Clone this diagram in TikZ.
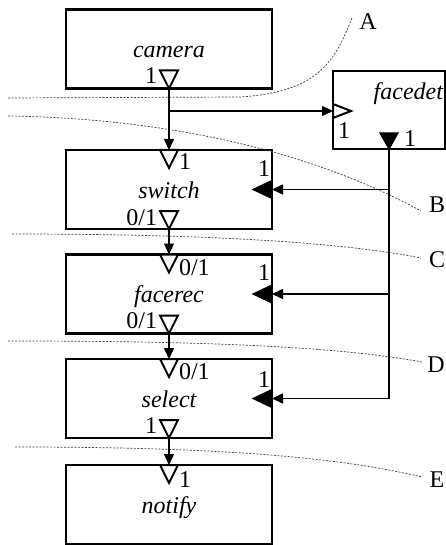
\documentclass[tikz,border=0pt]{standalone}
\usepackage{fontspec}
\setmainfont{Liberation Serif}
\usetikzlibrary{arrows.meta}
\begin{document}
\begin{tikzpicture}[x=1pt,y=-1pt,
  every node/.style={font=\fontsize{24}{29}\selectfont},
  box/.style={draw, line width=2.6pt, minimum width=206pt, minimum height=79pt,
    inner sep=0pt, outer sep=0pt, font=\fontsize{24}{29}\selectfont\itshape,
    text height=17pt, text depth=0pt},
  conn/.style={line width=1.5pt, -{Triangle[length=11pt,width=10pt]}},
  wire/.style={line width=1.5pt},
  oport/.style={draw, line width=2pt, fill=white, line join=miter},
  fport/.style={draw, line width=1.2pt, fill=black, line join=miter},
  plab/.style={inner sep=0pt, outer sep=0pt},
  cut/.style={draw=black!75, line width=0.7pt, dash pattern=on 2pt off 1.5pt},
  cutlab/.style={inner sep=0pt, outer sep=0pt}
]
\useasboundingbox (0,0) rectangle (446,545);

% boxes
\node[box] (camera) at (169,49) {camera};
\node[box] (switch) at (169,189.5) {switch};
\node[box] (facerec) at (169,294) {facerec};
\node[box] (select) at (169,398.5) {select};
\node[box] (notify) at (169,504.5) {notify};
\node[box, minimum width=112pt, minimum height=78pt] (facedet) at (389,110) {};
\node[plab, anchor=base east, font=\fontsize{24}{29}\selectfont\itshape] (facedett) at (443,100) {facedet};

% cut lines
\draw[cut] (8,98) -- (240,97) .. controls (320,92) and (335,60) .. (352,18);
\draw[cut] (8,116) .. controls (150,118) and (300,145) .. (421,211);
\draw[cut] (12,234) .. controls (180,234) and (330,240) .. (421,258);
\draw[cut] (8,341) .. controls (180,341) and (330,345) .. (422,362);
\draw[cut] (15,447) .. controls (200,447) and (330,455) .. (422,477);
\node[cutlab, anchor=base] (cA) at (368,30) {A};
\node[cutlab, anchor=base] (cB) at (437,212) {B};
\node[cutlab, anchor=base] (cC) at (437,267) {C};
\node[cutlab, anchor=base] (cD) at (436,372) {D};
\node[cutlab, anchor=base] (cE) at (437,487) {E};

% connectors
\coordinate (br) at (169,111);
\draw[conn] (camera.south) -- (switch.north);
\draw[conn] (br) -- (br -| facedet.west);
\draw[conn] (switch.south) -- (facerec.north);
\draw[conn] (facerec.south) -- (select.north);
\draw[conn] (select.south) -- (notify.north);
\coordinate (j1) at (switch.east -| facedet.south);
\coordinate (j2) at (facerec.east -| facedet.south);
\coordinate (j3) at (select.east -| facedet.south);
\draw[wire] (facedet.south) -- (j3);
\draw[conn] (j1) -- (switch.east);
\draw[conn] (j2) -- (facerec.east);
\draw[conn] (j3) -- (select.east);

% ports
\draw[oport] (camera.south) -- ++(-9,-18) -- ++(18,0) -- cycle;
\draw[oport] (switch.north) ++(0,18) -- ++(-9,-18) -- ++(18,0) -- cycle;
\draw[oport] (switch.south) -- ++(-9,-18) -- ++(18,0) -- cycle;
\draw[oport] (facerec.north) ++(0,18) -- ++(-9,-18) -- ++(18,0) -- cycle;
\draw[oport] (facerec.south) -- ++(-9,-18) -- ++(18,0) -- cycle;
\draw[oport] (select.north) ++(0,18) -- ++(-9,-18) -- ++(18,0) -- cycle;
\draw[oport] (select.south) -- ++(-9,-18) -- ++(18,0) -- cycle;
\draw[oport] (notify.north) ++(0,18) -- ++(-9,-18) -- ++(18,0) -- cycle;
\draw[oport] (br -| facedet.west) ++(18,0) -- ++(-18,-7) -- ++(0,14) -- cycle;
\draw[fport] (facedet.south) -- ++(-9,-16) -- ++(18,0) -- cycle;
\draw[fport] (switch.east) ++(-19,0) -- ++(19,-9) -- ++(0,18) -- cycle;
\draw[fport] (facerec.east) ++(-19,0) -- ++(19,-9) -- ++(0,18) -- cycle;
\draw[fport] (select.east) ++(-19,0) -- ++(19,-9) -- ++(0,18) -- cycle;

% port labels
\node[plab, anchor=base east] (l1) at (157,84) {1};
\node[plab, anchor=base west] (l2) at (179,170) {1};
\node[plab, anchor=base] (l3) at (264,177) {1};
\node[plab, anchor=base east] (l4) at (157,225) {0/1};
\node[plab, anchor=base west] (l5) at (179,275) {0/1};
\node[plab, anchor=base] (l6) at (264,280) {1};
\node[plab, anchor=base east] (l7) at (157,328) {0/1};
\node[plab, anchor=base west] (l8) at (179,379) {0/1};
\node[plab, anchor=base] (l9) at (264,387) {1};
\node[plab, anchor=base east] (l10) at (157,433) {1};
\node[plab, anchor=base west] (l11) at (179,487) {1};
\node[plab, anchor=base west] (l12) at (338,139) {1};
\node[plab, anchor=base west] (l13) at (404,147) {1};
\end{tikzpicture}
\end{document}
